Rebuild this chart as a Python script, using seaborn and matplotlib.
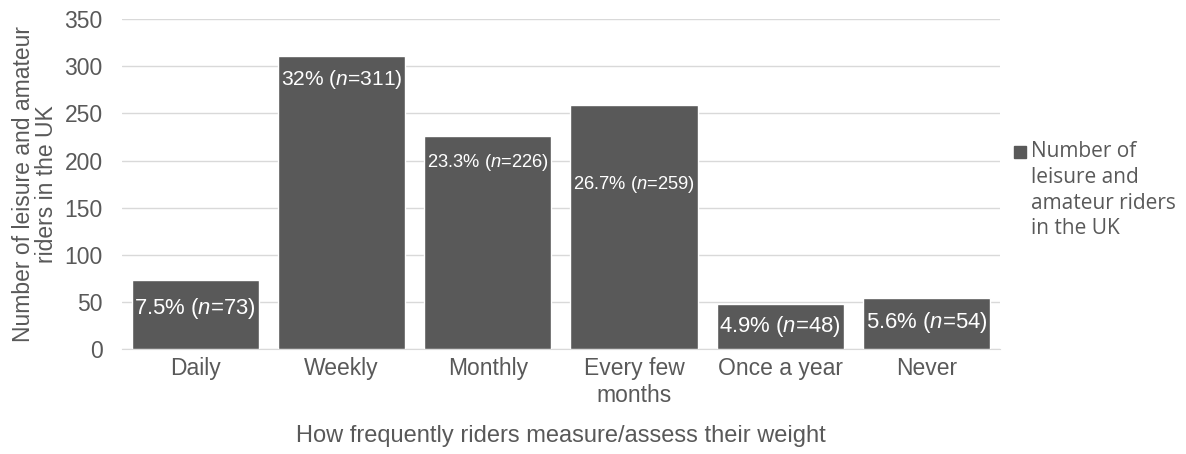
import matplotlib
matplotlib.use("Agg")
import matplotlib.pyplot as plt
from matplotlib.patches import Rectangle
import seaborn as sns
import pandas as pd

categories = ["Daily", "Weekly", "Monthly", "Every few\nmonths", "Once a year", "Never"]
counts = [73, 311, 226, 259, 48, 54]
percents = ["7.5%", "32%", "23.3%", "26.7%", "4.9%", "5.6%"]

# how far below the bar top each label sits (pixels)
label_drop = [28, 24, 26, 80, 23, 24]

sns.set_style("white")
plt.rcParams['font.family'] = ['Liberation Sans', 'DejaVu Sans']
plt.rcParams['mathtext.fontset'] = 'custom'
plt.rcParams['mathtext.rm'] = 'Liberation Sans'
plt.rcParams['mathtext.it'] = 'Liberation Sans:italic'

grey = "#595959"
df = pd.DataFrame({"cat": categories, "n": counts})

fig = plt.figure(figsize=(11.86, 4.54), dpi=100)
ax = fig.add_axes([0.103, 0.231, 0.74, 0.727])
sns.barplot(data=df, x="cat", y="n", color=grey, saturation=1, width=0.87, ax=ax, zorder=3)

ax.set_ylim(0, 350)
ax.set_yticks(range(0, 351, 50))
ax.yaxis.grid(True, color="#d9d9d9", linewidth=1, zorder=0)
for s in ["top", "right", "left"]:
    ax.spines[s].set_visible(False)
ax.spines["bottom"].set_color("#d9d9d9")
ax.tick_params(axis="both", length=0, labelsize=16.5, labelcolor=grey)
ax.tick_params(axis="y", pad=14)
ax.tick_params(axis="x", pad=6)
ax.set_xlabel("How frequently riders measure/assess their weight", fontsize=17, color=grey, labelpad=13)
ax.set_ylabel("Number of leisure and amateur\nriders in the UK", fontsize=16.5, color=grey,
              labelpad=5, linespacing=1.0)

# data labels, shrunk to fit each bar like the original
fig.canvas.draw()
renderer = fig.canvas.get_renderer()
for i, (p, n) in enumerate(zip(percents, counts)):
    bar = ax.patches[i]
    bw = bar.get_window_extent(renderer).width
    t = ax.annotate(p + r" ($\it{n}$=" + str(n) + ")", xy=(i, n), xytext=(0, -label_drop[i] * 0.72),
                    textcoords="offset points", ha="center", va="center",
                    color="white", fontsize=14, zorder=4)
    tw = t.get_window_extent(renderer).width
    t.set_fontsize(min(16.5, 14 * bw * 0.96 / tw))

fig.patches.append(Rectangle((1014 / 1186, 1 - 158 / 454), 12 / 1186, 12 / 454,
                             transform=fig.transFigure, color=grey, figure=fig))
fig.text(1031 / 1186, 1 - 141 / 454, "Number of\nleisure and\namateur riders\nin the UK", fontsize=15,
         color=grey, va="top", family=["Open Sans", "DejaVu Sans"], linespacing=1.3)

fig.savefig("out.png", dpi=100)
